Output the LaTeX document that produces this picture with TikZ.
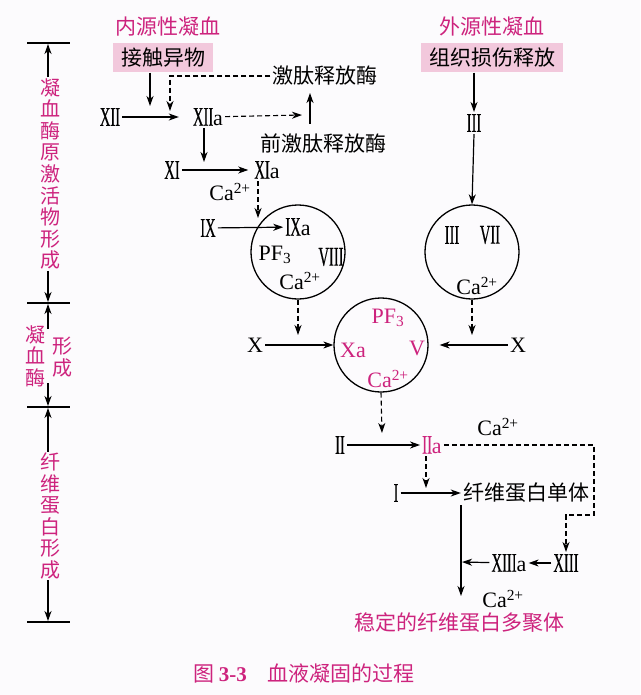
\documentclass[tikz,border=0pt]{standalone}
\usepackage{fontspec}
\setmainfont{Liberation Serif}
\newfontfamily\cjk{Noto Sans CJK SC}
\newfontfamily\romfont[FakeStretch=0.54,FakeBold=0.4]{Liberation Serif}
\newcommand{\rom}[1]{{\romfont\fontsize{27}{28}\selectfont #1}}
\newcommand{\caion}{Ca\textsuperscript{2+}}
\usetikzlibrary{arrows.meta}
\definecolor{mag}{RGB}{205,35,125}
\definecolor{boxpink}{RGB}{242,200,220}
\definecolor{paper}{RGB}{252,251,253}
\tikzset{
  >={Stealth[length=10pt,width=7pt,inset=3pt]},
  lbl/.style={inner sep=2pt, font=\fontsize{22}{24}\selectfont},
  zh/.style={inner sep=2pt, font=\cjk\fontsize{21}{23}\selectfont},
  pinkzh/.style={zh, text=mag},
  sidezh/.style={inner sep=1pt, align=center, text=mag, font=\cjk\fontsize{20}{21.6}\selectfont},
  srcbox/.style={zh, fill=boxpink, inner xsep=8pt, minimum height=29pt},
  cplx/.style={circle, draw, line width=1.3pt, minimum size=94pt, inner sep=0pt},
  flow/.style={->, line width=1.2pt},
  cofactor/.style={->, line width=1.1pt, dash pattern=on 5pt off 3pt},
  bar/.style={line width=1.1pt}
}
\begin{document}
\begin{tikzpicture}[x=1pt,y=-1pt]
  \fill[paper] (0,0) rectangle (640,695);
  \useasboundingbox (0,0) rectangle (640,695);

  % stage scale on the left
  \draw[bar] (27,43) -- (70,43);
  \draw[bar] (27,303) -- (70,303);
  \draw[bar] (27,407) -- (70,407);
  \draw[bar] (27,622) -- (70,622);
  \node[sidezh] (stage1) at (50,174) {凝\\血\\酶\\原\\激\\活\\物\\形\\成};
  \node[sidezh] (stage2a) at (35,356) {凝\\血\\酶};
  \node[sidezh] (stage2b) at (62,357) {形\\成};
  \node[sidezh] (stage3) at (50,516) {纤\\维\\蛋\\白\\形\\成};
  \coordinate (t1) at (48,44);
  \coordinate (t2) at (48,302);
  \coordinate (t2b) at (48,304);
  \coordinate (t3) at (48,406);
  \coordinate (t3b) at (48,408);
  \coordinate (t4) at (48,621);
  \coordinate (u2) at (48,329);
  \coordinate (d2) at (48,383);
  \draw[flow] (stage1.north -| t1) -- (t1);
  \draw[flow] (stage1.south -| t2) -- (t2);
  \draw[flow] (u2) -- (t2b);
  \draw[flow] (d2) -- (t3);
  \draw[flow] (stage3.north -| t3b) -- (t3b);
  \draw[flow] (stage3.south -| t4) -- (t4);

  % intrinsic pathway
  \node[pinkzh] (intr) at (168,27) {内源性凝血};
  \node[srcbox] (contact) at (163,58) {接触异物};
  \node[lbl] (f12) at (110,117) {\rom{XII}};
  \node[lbl] (f12a) at (208,117) {\rom{XII}a};
  \node[zh] (kal) at (325,76) {激肽释放酶};
  \node[zh] (prekal) at (323,143) {前激肽释放酶};
  \node[lbl] (f11) at (172,170) {\rom{XI}};
  \node[lbl] (f11a) at (267,170) {\rom{XI}a};
  \node[lbl] (ca1) at (230,192) {\caion};
  \node[lbl] (f9) at (208,228) {\rom{IX}};
  \node[cplx] (tenase) at (298,252) {};
  \node[lbl] (f9a) at (298,227) {\rom{IX}a};
  \node[lbl] (pf3a) at (275,255) {PF\textsubscript{3}};
  \node[lbl] (f8) at (331,257) {\rom{VIII}};
  \node[lbl] (ca2) at (300,281) {\caion};

  \coordinate (j1) at (150,106);
  \coordinate (j2) at (170,111);
  \coordinate (j3) at (302,115);
  \coordinate (j4) at (310,93);
  \coordinate (j4b) at (310,124);
  \coordinate (j5) at (204,162);
  \coordinate (j6) at (258,218);
  \coordinate (j7) at (298,335);
  \draw[flow] (contact.south -| j1) -- (j1);
  \draw[cofactor] (kal.west) -| (j2);
  \draw[flow, shorten >=12pt] (f12) -- (f12a);
  \draw[cofactor] (f12a) -- (j3);
  \draw[flow] (j4b) -- (j4);
  \draw[flow] (f12a.south -| j5) -- (j5);
  \draw[flow, shorten >=4pt] (f11) -- (f11a);
  \draw[cofactor] (f11a.south -| j6) -- (j6);
  \draw[flow] (f9) -- (f9a);
  \draw[cofactor] (tenase.south) -- (j7);

  % extrinsic pathway
  \node[pinkzh] (extr) at (492,27) {外源性凝血};
  \node[srcbox] (tissue) at (492,58) {组织损伤释放};
  \node[lbl] (f3) at (474,123) {\rom{III}};
  \node[cplx] (extc) at (472,252) {};
  \node[lbl] (f3in) at (452,235) {\rom{III}};
  \node[lbl] (f7) at (490,235) {\rom{VII}};
  \node[lbl] (ca3) at (477,286) {\caion};
  \coordinate (j8) at (472,335);
  \draw[flow] (tissue.south -| f3) -- (f3.north);
  \draw[flow] (f3.south) -- (extc.north);
  \draw[cofactor] (extc.south) -- (j8);

  % prothrombinase
  \node[lbl] (f10l) at (255,345) {X};
  \node[lbl] (f10r) at (518,345) {X};
  \node[cplx] (prot) at (381,345) {};
  \node[lbl, text=mag] (pf3b) at (388,318) {PF\textsubscript{3}};
  \node[lbl, text=mag] (f10a) at (353,350) {Xa};
  \node[lbl, text=mag] (f5) at (417,348) {V};
  \node[lbl, text=mag] (ca4) at (388,379) {\caion};
  \coordinate (j9) at (382,433);
  \draw[flow] (f10l) -- (prot.west);
  \draw[flow, shorten >=11pt] (f10r) -- (prot.east);
  \draw[cofactor] (prot.south) -- (j9);

  % thrombin and fibrin
  \node[lbl] (f2) at (340,445) {\rom{II}};
  \node[lbl] (f2a) at (432,445) {\textcolor{mag}{\rom{II}a}};
  \node[lbl] (ca5) at (498,427) {\caion};
  \node[lbl] (f1) at (396,493) {\rom{I}};
  \node[zh] (mono) at (526,493) {纤维蛋白单体};
  \node[lbl] (f13) at (566,563) {\rom{XIII}};
  \node[lbl] (f13a) at (509,563) {\rom{XIII}a};
  \node[lbl] (ca6) at (503,599) {\caion};
  \node[pinkzh] (poly) at (459,623) {稳定的纤维蛋白多聚体};
  \coordinate (k1) at (594,515);
  \coordinate (j10) at (426,488);
  \coordinate (j11) at (461,596);
  \coordinate (j12) at (462,562);
  \draw[flow] (f2) -- (f2a);
  \draw[cofactor] (f2a.east) -| (k1) -- (f13.north |- k1) -- (f13.north);
  \draw[cofactor] (f2a.south -| j10) -- (j10);
  \draw[flow] (f1) -- (mono.west);
  \draw[flow] (mono.south -| j11) -- (j11);
  \draw[flow] (f13) -- (f13a);
  \draw[flow] (f13a) -- (j12);

  % caption
  \node[pinkzh] (caption) at (304,673) {图 {\fontspec{Liberation Serif}\bfseries 3-3}\quad 血液凝固的过程};
\end{tikzpicture}
\end{document}
